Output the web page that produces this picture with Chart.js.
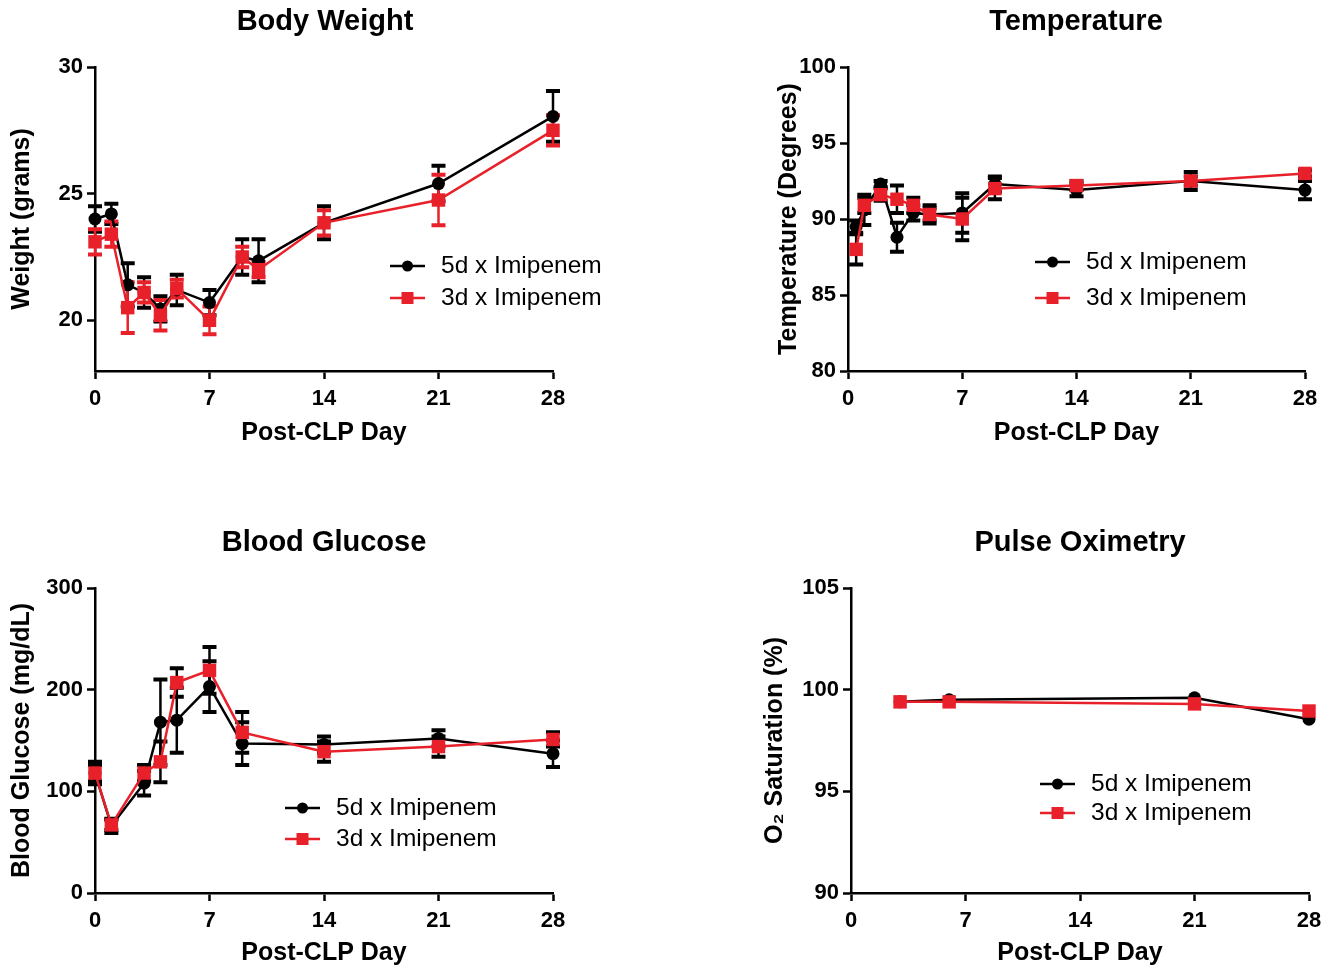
<!DOCTYPE html>
<html>
<head>
<meta charset="utf-8">
<script src="https://cdn.jsdelivr.net/npm/chart.js@4.4.1/dist/chart.umd.min.js"></script>
<style>
html,body{margin:0;padding:0;background:#fff;}
#wrap{position:relative;width:1334px;height:966px;overflow:hidden;}
.cell{position:absolute;width:667px;height:483px;}
</style>
</head>
<body>
<div id="wrap">
  <div class="cell" style="left:0;top:0"><canvas id="c1" width="667" height="483"></canvas></div>
  <div class="cell" style="left:667px;top:0"><canvas id="c2" width="667" height="483"></canvas></div>
  <div class="cell" style="left:0;top:483px"><canvas id="c3" width="667" height="483"></canvas></div>
  <div class="cell" style="left:667px;top:483px"><canvas id="c4" width="667" height="483"></canvas></div>
</div>
<script>
// shared
var xTicks = [0, 7, 14, 21, 28];
var series = ['5d x Imipenem', '3d x Imipenem'];

// body weight
var bwDays = [0, 1, 2, 3, 4, 5, 7, 9, 10, 14, 21, 28];
var bw5    = [24.0, 24.2, 21.4, 21.1, 20.45, 21.2, 20.7, 22.5, 22.35, 23.85, 25.4, 28.05];
var bw5Err = [0.5, 0.4, 0.85, 0.6, 0.5, 0.6, 0.5, 0.7, 0.85, 0.65, 0.7, 1.0];
var bw3    = [23.1, 23.4, 20.5, 21.1, 20.2, 21.25, 20.0, 22.5, 22.0, 23.85, 24.75, 27.5];
var bw3Err = [0.5, 0.5, 1.0, 0.4, 0.6, 0.35, 0.55, 0.4, 0.3, 0.5, 1.0, 0.6];
var bwTicks = [20, 25, 30];

// temperature
var tDays  = [0.5, 1, 2, 3, 4, 5, 7, 9, 14, 21, 28];
var t5     = [89.5, 90.6, 92.3, 88.8, 90.4, 90.3, 90.4, 92.3, 91.9, 92.5, 91.9];
var t5Err  = [0.4, 1.0, 0.2, 0.95, 0.5, 0.6, 1.3, 0.5, 0.4, 0.6, 0.6];
var t3     = [88.0, 90.9, 91.6, 91.3, 90.9, 90.3, 90.0, 92.0, 92.2, 92.5, 93.0];
var t3Err  = [1.0, 0.5, 0.4, 0.9, 0.5, 0.4, 1.4, 0.7, 0.3, 0.3, 0.2];
var tTicks = [80, 85, 90, 95, 100];

// blood glucose
var gDays  = [0, 1, 3, 4, 5, 7, 9, 14, 21, 28];
var g5     = [118, 66, 108, 168, 170, 203, 147, 146, 152, 137];
var g5Err  = [11, 7, 12, 42, 32, 25, 21, 8, 8, 13];
var g3     = [118, 67, 118, 129, 207, 219, 158, 139, 144, 151];
var g3Err  = [8, 5, 8, 20, 14, 23, 20, 10, 10, 7];
var gTicks = [0, 100, 200, 300];

// pulse oximetry
var pDays  = [3, 6, 21, 28];
var p5     = [99.4, 99.5, 99.6, 98.55];
var p3     = [99.4, 99.4, 99.3, 98.95];
var pTicks = [90, 95, 100, 105];

var FONT = '"Liberation Sans", Arial, sans-serif';
var RED = '#e8202a';

function pts(xs, ys){
  var out = [];
  for(var i=0;i<xs.length;i++){ out.push({x: xs[i], y: ys[i]}); }
  return out;
}

var errorBars = {
  id: 'errorBars',
  beforeDatasetsDraw: function(chart){
    var ctx = chart.ctx, ys = chart.scales.y, xs = chart.scales.x;
    for(var d=chart.data.datasets.length-1; d>=0; d--){
      var ds = chart.data.datasets[d];
      if(!ds.errors) continue;
      ctx.save();
      ctx.strokeStyle = ds.errColor || ds.borderColor;
      for(var i=0;i<ds.data.length;i++){
        var p = ds.data[i], e = ds.errors[i];
        var px = xs.getPixelForValue(p.x);
        var top = ys.getPixelForValue(p.y + e), bot = ys.getPixelForValue(p.y - e);
        ctx.lineWidth = 2.5;
        ctx.beginPath(); ctx.moveTo(px, top); ctx.lineTo(px, bot); ctx.stroke();
        ctx.lineWidth = 4;
        ctx.beginPath();
        ctx.moveTo(px - 7, top); ctx.lineTo(px + 7, top);
        ctx.moveTo(px - 7, bot); ctx.lineTo(px + 7, bot);
        ctx.stroke();
      }
      ctx.restore();
    }
  }
};

var decor = {
  id: 'decor',
  afterDraw: function(chart){
    var o = chart.options.plugins.decor, ctx = chart.ctx;
    ctx.save();
    ctx.fillStyle = '#000';
    ctx.textBaseline = 'middle';
    ctx.textAlign = 'center';
    ctx.font = 'bold 29px ' + FONT;
    ctx.fillText(o.title, o.titleX, o.titleY);
    // legend
    ctx.textAlign = 'left';
    ctx.font = '24.5px ' + FONT;
    var items = chart.data.datasets.slice().sort(function(p, q){ return p.legendIdx - q.legendIdx; });
    for(var i=0;i<items.length;i++){
      var ds = items[i];
      var ly = o.legY + i * o.legGap, lx = o.legX;
      ctx.strokeStyle = ds.borderColor; ctx.fillStyle = ds.borderColor;
      ctx.lineWidth = 2.5;
      ctx.beginPath(); ctx.moveTo(lx, ly); ctx.lineTo(lx + 35, ly); ctx.stroke();
      if(ds.pointStyle === 'rect'){ ctx.fillRect(lx + 17.5 - 6, ly - 6, 12, 12); }
      else { ctx.beginPath(); ctx.arc(lx + 17.5, ly, 5.5, 0, Math.PI * 2); ctx.fill(); }
      ctx.fillStyle = '#000';
      ctx.fillText(ds.label, lx + 51, ly);
    }
    ctx.restore();
  }
};

function axisFont(sz){ return {family: FONT, size: sz, weight: 'bold', lineHeight: 1}; }

function makeChart(id, c){
  var datasets = [
    {label: series[1], data: pts(c.days3, c.v3), errors: c.e3, errColor: c.redErrColor,
     borderColor: RED, backgroundColor: RED, pointStyle: 'rect', pointRadius: 9.5,
     borderWidth: 2.5, pointBorderWidth: 0, order: 0, legendIdx: 1, clip: false},
    {label: series[0], data: pts(c.days5, c.v5), errors: c.e5,
     borderColor: '#000', backgroundColor: '#000', pointStyle: 'circle', pointRadius: 6.5,
     borderWidth: 2.5, pointBorderWidth: 0, order: 1, legendIdx: 0, clip: false}
  ];
  return new Chart(document.getElementById(id), {
    type: 'line',
    data: {datasets: datasets},
    plugins: [errorBars, decor],
    options: {
      responsive: false, animation: false,
      layout: {padding: c.pad},
      plugins: {legend: {display: false}, tooltip: {enabled: false}, decor: c.decor},
      scales: {
        x: {
          type: 'linear', min: 0, max: 28,
          afterBuildTicks: function(s){ s.ticks = xTicks.map(function(v){ return {value: v}; }); },
          afterFit: function(s){ s.height = c.xh; },
          ticks: {color: '#000', font: axisFont(22), padding: 9, autoSkip: false, maxRotation: 0},
          grid: {display: true, drawOnChartArea: false, drawTicks: true, tickLength: 8, tickWidth: 2.5, color: '#000'},
          border: {display: true, color: '#000', width: 2.5},
          title: {display: true, text: 'Post-CLP Day', color: '#000', font: axisFont(25), padding: 0}
        },
        y: {
          type: 'linear', min: c.ymin, max: c.ymax,
          afterBuildTicks: function(s){ s.ticks = c.yTicks.map(function(v){ return {value: v}; }); },
          afterFit: function(s){ s.width = c.yw; },
          ticks: {color: '#000', font: axisFont(22), padding: 4, autoSkip: false},
          grid: {display: true, drawOnChartArea: false, drawTicks: true, tickLength: 8, tickWidth: 2.5, color: '#000'},
          border: {display: true, color: '#000', width: 2.5},
          title: {display: true, text: c.yTitle, color: '#000', font: axisFont(25), padding: 0}
        }
      }
    }
  });
}

makeChart('c1', {
  days5: bwDays, v5: bw5, e5: bw5Err, days3: bwDays, v3: bw3, e3: bw3Err,
  ymin: 18, ymax: 30, yTicks: bwTicks, yTitle: 'Weight (grams)',
  pad: {left: 10, top: 67, right: 114, bottom: 37}, yw: 85, xh: 75,
  decor: {title: 'Body Weight', titleX: 325, titleY: 22, legX: 390, legY: 266, legGap: 32}
});
makeChart('c2', {
  days5: tDays, v5: t5, e5: t5Err, days3: tDays, v3: t3, e3: t3Err, redErrColor: '#000',
  ymin: 80, ymax: 100, yTicks: tTicks, yTitle: 'Temperature (Degrees)',
  pad: {left: 110, top: 67, right: 29, bottom: 37}, yw: 71, xh: 75,
  decor: {title: 'Temperature', titleX: 409, titleY: 22, legX: 368, legY: 262, legGap: 36}
});
makeChart('c3', {
  days5: gDays, v5: g5, e5: g5Err, days3: gDays, v3: g3, e3: g3Err, redErrColor: '#000',
  ymin: 0, ymax: 300, yTicks: gTicks, yTitle: 'Blood Glucose (mg/dL)',
  pad: {left: 10, top: 105, right: 114, bottom: 0}, yw: 85, xh: 73,
  decor: {title: 'Blood Glucose', titleX: 324, titleY: 60, legX: 285, legY: 325, legGap: 31}
});
makeChart('c4', {
  days5: pDays, v5: p5, e5: null, days3: pDays, v3: p3, e3: null,
  ymin: 90, ymax: 105, yTicks: pTicks, yTitle: 'O\u2082 Saturation (%)',
  pad: {left: 96, top: 105, right: 25, bottom: 0}, yw: 88, xh: 73,
  decor: {title: 'Pulse Oximetry', titleX: 413, titleY: 60, legX: 373, legY: 301, legGap: 29}
});
</script>
</body>
</html>
